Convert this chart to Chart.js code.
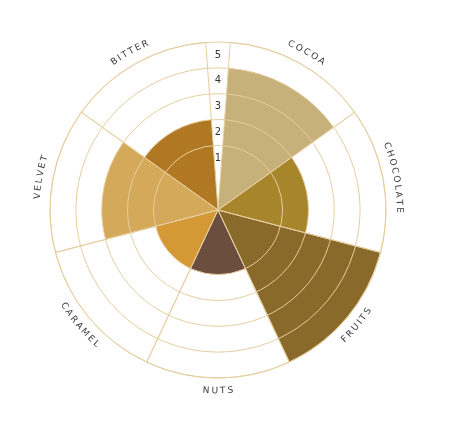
<!DOCTYPE html>
<html lang="en">

<head>
    <meta charset="UTF-8">
    <meta name="viewport" content="width=device-width, initial-scale=1.0">
    <title>Flavour wheel</title>
    <script src="https://cdn.jsdelivr.net/npm/chart.js"></script>
    <style>
        body { margin: 0; background: #fff; }
        #wrap { width: 450px; height: 438px; }
    </style>
</head>

<body>
    <div id="wrap">
        <canvas id="myChart"></canvas>
    </div>

    <script>
        // flavour scores
        const flavours = ['COCOA', 'CHOCOLATE', 'FRUITS', 'NUTS', 'CARAMEL', 'VELVET', 'BITTER'];
        const scores = [4, 2, 5, 1, 1, 3, 2];
        const colours = ['#c7b17a', '#a7862b', '#8a6a2b', '#6b4e3e', '#d49834', '#d4aa5a', '#b07822'];
        const tickValues = [1, 2, 3, 4, 5];

        const SCALE_MIN = -1.5;   // rings don't start at the centre
        const SCALE_MAX = 5;
        const GAP = 8.4;          // empty wedge at the top that holds the numbers (degrees)
        const LINE = '#e6cd9f';
        const LETTER_SPACING = 2.0;
        const FONT = '"DejaVu Sans", sans-serif';

        // split the gap in two halves so the numbers sit straight up at 0deg
        const labels = [''].concat(flavours, ['']);
        const values = [null].concat(scores, [null]);
        const fills = ['rgba(0,0,0,0)'].concat(colours, ['rgba(0,0,0,0)']);
        const sliceAngle = (360 - GAP) / flavours.length;
        const angleFor = (i) => (i === 0 || i === labels.length - 1) ? GAP / 2 : sliceAngle;
        const isGap = (i) => labels[i] === '';

        // labels bent round the outer ring
        const curvedLabels = {
            id: 'curvedLabels',
            afterDraw(chart) {
                const scale = chart.scales.r;
                const meta = chart.getDatasetMeta(1);
                const ctx = chart.ctx;
                const radius = scale.drawingArea + 13;
                ctx.save();
                ctx.font = '9px ' + FONT;
                ctx.fillStyle = '#3a3a3a';
                ctx.textAlign = 'center';
                ctx.textBaseline = 'middle';
                meta.data.forEach((arc, i) => {
                    const text = chart.data.labels[i];
                    if (!text) return;
                    const mid = (arc.startAngle + arc.endAngle) / 2;
                    const flip = Math.sin(mid) > 0; // bottom half reads left to right
                    const dir = flip ? -1 : 1;
                    const chars = text.split('');
                    const widths = chars.map(c => ctx.measureText(c).width);
                    const total = widths.reduce((a, b) => a + b, 0) + LETTER_SPACING * (chars.length - 1);
                    let a = mid - dir * total / 2 / radius;
                    chars.forEach((c, k) => {
                        a += dir * (widths[k] / 2) / radius;
                        ctx.save();
                        ctx.translate(scale.xCenter + radius * Math.cos(a), scale.yCenter + radius * Math.sin(a));
                        ctx.rotate(flip ? a - Math.PI / 2 : a + Math.PI / 2);
                        ctx.fillText(c, 0, 0);
                        ctx.restore();
                        a += dir * (widths[k] / 2 + LETTER_SPACING) / radius;
                    });
                });
                ctx.restore();
            }
        };

        const data = {
            labels: labels,
            datasets: [
                {
                    // outline only: spokes + outer rim
                    data: labels.map(() => SCALE_MAX),
                    backgroundColor: 'rgba(0,0,0,0)',
                    borderColor: (c) => isGap(c.dataIndex) ? 'rgba(0,0,0,0)' : LINE,
                    borderWidth: 1,
                    angle: (c) => angleFor(c.dataIndex)
                },
                {
                    data: values,
                    backgroundColor: fills,
                    borderWidth: 0,
                    angle: (c) => angleFor(c.dataIndex)
                }
            ]
        };

        const config = {
            type: 'polarArea',
            data: data,
            options: {
                responsive: true,
                maintainAspectRatio: false,
                animation: false,
                layout: {
                    // scale keeps half a tick font of room on each side
                    padding: { left: 45, right: 58, top: 37, bottom: 54 }
                },
                plugins: {
                    legend: { display: false },
                    tooltip: { enabled: false }
                },
                scales: {
                    r: {
                        min: SCALE_MIN,
                        max: SCALE_MAX,
                        startAngle: 0,
                        afterBuildTicks: (scale) => {
                            scale.ticks = tickValues.map(v => ({ value: v }));
                        },
                        grid: { color: LINE, lineWidth: 1, z: 1 },
                        angleLines: { display: false },
                        pointLabels: { display: false },
                        ticks: {
                            z: 1,
                            color: '#333',
                            showLabelBackdrop: false,
                            backdropPadding: 0,
                            font: { size: 10, family: FONT, lineHeight: '13px' },
                            // empty first line pushes the number just inside its ring
                            callback: (v) => ['', String(v)]
                        }
                    }
                }
            },
            plugins: [curvedLabels]
        };

        new Chart(document.getElementById('myChart'), config);
    </script>
</body>

</html>
